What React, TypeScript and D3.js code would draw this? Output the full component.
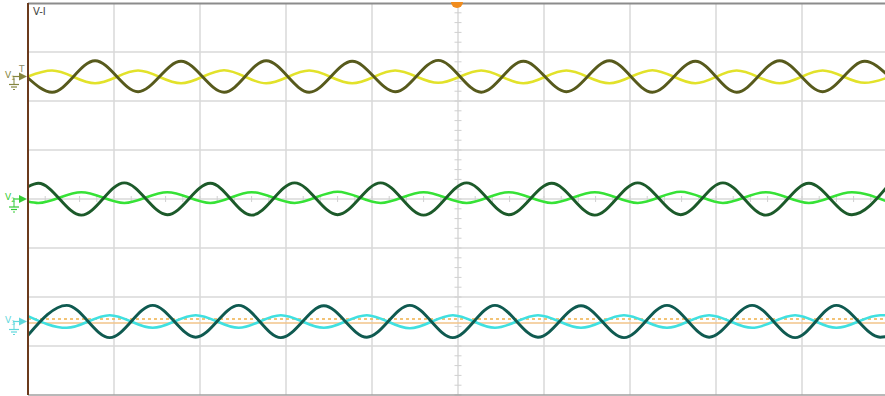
import { useEffect, useRef } from "react";
import * as d3 from "d3";

// Screen is 10 x 8 divisions; time and voltage are in divisions
const X_DIVS = 10;
const Y_DIVS = 8;
const LABEL = "V-I";

// ---- Channel 1 (olive voltage / yellow current), offset +2.5 div ----
const CH1_T = [0, 0.28, 0.78, 1.28, 1.78, 2.28, 2.77, 3.27, 3.77, 4.27, 4.77, 5.27, 5.76, 6.26, 6.76, 7.26, 7.76, 8.24, 8.74, 9.24, 9.73, 10];
const CH1_V = [2.47, 2.18, 2.82, 2.19, 2.81, 2.18, 2.82, 2.18, 2.81, 2.19, 2.83, 2.18, 2.81, 2.19, 2.82, 2.18, 2.81, 2.18, 2.82, 2.19, 2.81, 2.52];
const CH1_I = [2.5, 2.62, 2.36, 2.62, 2.36, 2.63, 2.36, 2.62, 2.36, 2.62, 2.37, 2.62, 2.36, 2.62, 2.36, 2.63, 2.36, 2.62, 2.36, 2.62, 2.37, 2.48];

// ---- Channel 2 (dark green voltage / bright green current), offset 0 ----
const CH2_T = [0, 0.12, 0.62, 1.12, 1.62, 2.12, 2.6, 3.1, 3.6, 4.1, 4.6, 5.1, 5.59, 6.09, 6.59, 7.09, 7.59, 8.08, 8.58, 9.08, 9.58, 10];
const CH2_V = [0.25, 0.32, -0.33, 0.33, -0.32, 0.32, -0.33, 0.33, -0.32, 0.33, -0.33, 0.33, -0.32, 0.32, -0.33, 0.33, -0.32, 0.33, -0.33, 0.32, -0.32, 0.27];
const CH2_I = [-0.05, -0.08, 0.14, -0.08, 0.14, -0.08, 0.14, -0.08, 0.15, -0.08, 0.14, -0.08, 0.14, -0.08, 0.14, -0.08, 0.15, -0.08, 0.14, -0.08, 0.14, -0.06];

// ---- Channel 3 (dark teal voltage / cyan current), offset -2.5 div ----
const CH3_T = [0, 0.45, 0.95, 1.45, 1.95, 2.45, 2.94, 3.44, 3.94, 4.44, 4.94, 5.43, 5.93, 6.43, 6.93, 7.43, 7.92, 8.42, 8.92, 9.4, 9.91, 10];
const CH3_V = [-2.78, -2.17, -2.83, -2.17, -2.82, -2.17, -2.83, -2.18, -2.82, -2.17, -2.83, -2.17, -2.82, -2.18, -2.83, -2.17, -2.82, -2.17, -2.83, -2.17, -2.82, -2.8];
const CH3_I = [-2.39, -2.63, -2.37, -2.63, -2.37, -2.63, -2.37, -2.63, -2.37, -2.64, -2.37, -2.63, -2.37, -2.63, -2.37, -2.63, -2.37, -2.63, -2.37, -2.63, -2.37, -2.38];

// Trigger level (dotted) and channel 3 ground reference (solid)
const TRIG_LEVEL = -2.45;
const CH3_REF = -2.53;

type Trace = { t: number[]; v: number[]; color: string; width: number };

const TRACES: Trace[] = [
  { t: CH1_T, v: CH1_I, color: "#e2e22a", width: 2.5 },
  { t: CH1_T, v: CH1_V, color: "#575a1c", width: 2.9 },
  { t: CH2_T, v: CH2_I, color: "#36e236", width: 2.5 },
  { t: CH2_T, v: CH2_V, color: "#1c5a2a", width: 2.9 },
  { t: CH3_T, v: CH3_I, color: "#40e0e0", width: 2.5 },
  { t: CH3_T, v: CH3_V, color: "#0f5a50", width: 2.9 },
];

const MARKERS = [
  { level: 2.5, color: "#85853e", digit: "1", trigger: true },
  { level: 0, color: "#35cc35", digit: "2", trigger: false },
  { level: -2.5, color: "#5fd8dc", digit: "3", trigger: false },
];

const W = 885;
const H = 396;
const PLOT = { left: 28, right: 888, top: 3, bottom: 395 };

export default function App() {
  const svgRef = useRef<SVGSVGElement | null>(null);

  useEffect(() => {
    if (!svgRef.current) return;
    const svg = d3.select(svgRef.current);
    svg.selectAll("*").remove();

    const x = d3.scaleLinear().domain([0, X_DIVS]).range([PLOT.left, PLOT.right]);
    const y = d3
      .scaleLinear()
      .domain([-Y_DIVS / 2, Y_DIVS / 2])
      .range([PLOT.bottom, PLOT.top]);

    svg.append("rect").attr("width", W).attr("height", H).attr("fill", "#ffffff");

    // Grid
    const grid = svg.append("g");
    d3.range(1, X_DIVS).forEach((i) => {
      grid
        .append("line")
        .attr("x1", x(i))
        .attr("x2", x(i))
        .attr("y1", y(Y_DIVS / 2))
        .attr("y2", y(-Y_DIVS / 2))
        .attr("stroke", "#d8d8d8")
        .attr("stroke-width", 1.5);
    });
    d3.range(-Y_DIVS / 2 + 1, Y_DIVS / 2).forEach((j) => {
      grid
        .append("line")
        .attr("x1", x(0))
        .attr("x2", x(X_DIVS))
        .attr("y1", y(j))
        .attr("y2", y(j))
        .attr("stroke", "#d8d8d8")
        .attr("stroke-width", 1.5);
    });

    // Minor ticks on the centre axes
    d3.range(-Y_DIVS / 2, Y_DIVS / 2 + 0.01, 0.2).forEach((v) => {
      grid
        .append("line")
        .attr("x1", x(X_DIVS / 2) - 3.5)
        .attr("x2", x(X_DIVS / 2) + 3.5)
        .attr("y1", y(v))
        .attr("y2", y(v))
        .attr("stroke", "#d0d0d0")
        .attr("stroke-width", 1);
    });
    d3.range(0, X_DIVS + 0.01, 0.2).forEach((t) => {
      grid
        .append("line")
        .attr("x1", x(t))
        .attr("x2", x(t))
        .attr("y1", y(0) - 3)
        .attr("y2", y(0) + 3)
        .attr("stroke", "#d0d0d0")
        .attr("stroke-width", 1);
    });

    // Frame
    svg
      .append("line")
      .attr("x1", x(0))
      .attr("x2", W)
      .attr("y1", y(Y_DIVS / 2) + 0.5)
      .attr("y2", y(Y_DIVS / 2) + 0.5)
      .attr("stroke", "#8c8c8c")
      .attr("stroke-width", 2);
    svg
      .append("line")
      .attr("x1", x(0))
      .attr("x2", W)
      .attr("y1", y(-Y_DIVS / 2))
      .attr("y2", y(-Y_DIVS / 2))
      .attr("stroke", "#a0a0a0")
      .attr("stroke-width", 1.5);

    // Reference lines on channel 3
    svg
      .append("line")
      .attr("x1", x(0))
      .attr("x2", x(X_DIVS))
      .attr("y1", y(CH3_REF))
      .attr("y2", y(CH3_REF))
      .attr("stroke", "#f2c58a")
      .attr("stroke-width", 1.5);
    svg
      .append("line")
      .attr("x1", x(0))
      .attr("x2", x(X_DIVS))
      .attr("y1", y(TRIG_LEVEL))
      .attr("y2", y(TRIG_LEVEL))
      .attr("stroke", "#f0b04a")
      .attr("stroke-width", 1.5)
      .attr("stroke-dasharray", "3,3");

    // Waveforms
    const line = d3
      .line<[number, number]>()
      .x((d) => x(d[0]))
      .y((d) => y(d[1]))
      .curve(d3.curveMonotoneX);
    const plotG = svg.append("g");
    TRACES.forEach((tr) => {
      const pts = tr.t.map((t, i) => [t, tr.v[i]] as [number, number]);
      plotG
        .append("path")
        .attr("d", line(pts) ?? "")
        .attr("fill", "none")
        .attr("stroke", tr.color)
        .attr("stroke-width", tr.width)
        .attr("stroke-linejoin", "round");
    });

    // Left edge (brown)
    svg
      .append("line")
      .attr("x1", x(0))
      .attr("x2", x(0))
      .attr("y1", y(Y_DIVS / 2))
      .attr("y2", y(-Y_DIVS / 2))
      .attr("stroke", "#6b3a1c")
      .attr("stroke-width", 2);

    // Trigger position marker at top centre
    svg
      .append("path")
      .attr(
        "d",
        d3.arc()({ innerRadius: 0, outerRadius: 6, startAngle: Math.PI / 2, endAngle: (3 * Math.PI) / 2 }) ?? ""
      )
      .attr("transform", `translate(${x(X_DIVS / 2) - 1},2)`)
      .attr("fill", "#f08c1e");

    // Channel markers on the left
    MARKERS.forEach((m) => {
      const my = y(m.level);
      const g = svg.append("g").attr("fill", m.color).attr("stroke", m.color);
      g.append("path")
        .attr("d", `M${x(0) - 9},${my - 4} L${x(0) - 1},${my} L${x(0) - 9},${my + 4} Z`)
        .attr("stroke", "none");
      g.append("line")
        .attr("x1", 13)
        .attr("x2", x(0) - 9)
        .attr("y1", my)
        .attr("y2", my)
        .attr("stroke-width", 1.2);
      const txt = g
        .append("text")
        .attr("x", 5)
        .attr("y", my + 1)
        .attr("stroke", "none")
        .attr("font-family", "DejaVu Sans, sans-serif")
        .attr("font-size", 9)
        .text("V");
      txt.append("tspan").attr("font-size", 6).attr("dy", 2).text(m.digit);
      // ground symbol
      g.append("line").attr("x1", 14).attr("x2", 14).attr("y1", my + 1).attr("y2", my + 8).attr("stroke-width", 1);
      g.append("line").attr("x1", 9).attr("x2", 19).attr("y1", my + 8).attr("y2", my + 8).attr("stroke-width", 1.2);
      g.append("line").attr("x1", 11).attr("x2", 17).attr("y1", my + 10.5).attr("y2", my + 10.5).attr("stroke-width", 1.2);
      g.append("line").attr("x1", 13).attr("x2", 15).attr("y1", my + 13).attr("y2", my + 13).attr("stroke-width", 1.2);
      if (m.trigger) {
        g.append("text")
          .attr("x", 19)
          .attr("y", my - 5)
          .attr("stroke", "none")
          .attr("fill", "#8a8a6a")
          .attr("font-family", "DejaVu Sans, sans-serif")
          .attr("font-size", 9)
          .text("T");
      }
    });

    // Title
    svg
      .append("text")
      .attr("x", x(0) + 5)
      .attr("y", 15)
      .attr("fill", "#444444")
      .attr("font-family", "DejaVu Sans, sans-serif")
      .attr("font-size", 10)
      .text(LABEL);
  }, []);

  return (
    <svg
      ref={svgRef}
      width={W}
      height={H}
      style={{ position: "absolute", left: 0, top: 0 }}
      role="img"
      aria-label={LABEL}
    />
  );
}
